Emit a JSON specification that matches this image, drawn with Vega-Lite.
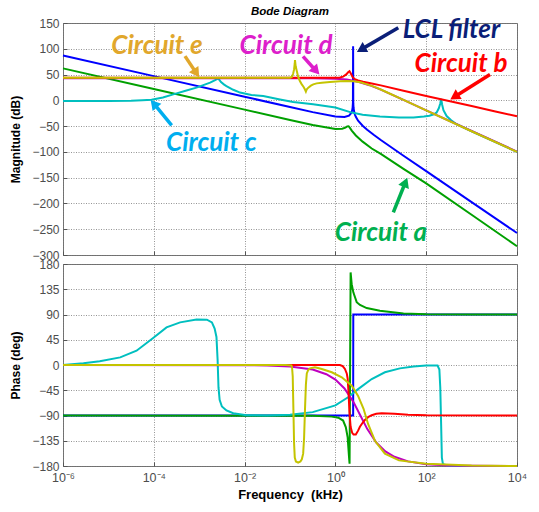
{
  "$schema": "https://vega.github.io/schema/vega-lite/v6.json",
  "background": "white",
  "padding": {"left": 9, "top": 5, "right": 4, "bottom": 2},
  "spacing": 9,
  "bounds": "flush",
  "config": {
    "font": "Liberation Sans",
    "view": {"stroke": "#6f6f6f", "strokeWidth": 1},
    "axis": {
      "labelFont": "Liberation Sans", "labelFontSize": 12, "labelColor": "#4d4d4d", "labelOverlap": false,
      "titleFont": "Liberation Sans", "titleFontSize": 12, "titleFontWeight": "bold", "titleColor": "#000000",
      "grid": true, "gridColor": "#7a7a7a", "gridDash": [1, 1.5], "gridWidth": 0.8,
      "domain": false, "ticks": true, "tickSize": -4, "tickColor": "#555555", "tickWidth": 1,
      "labelPadding": 8, "titlePadding": 9
    }
  },
  "datasets": {
    "magnitude": [
      {"series": "LCL filter", "f": 1e-6, "mag": 87},
      {"series": "LCL filter", "f": 1e-4, "mag": 47},
      {"series": "LCL filter", "f": 0.01, "mag": 7},
      {"series": "LCL filter", "f": 0.1, "mag": -13},
      {"series": "LCL filter", "f": 0.3162, "mag": -22.9},
      {"series": "LCL filter", "f": 1, "mag": -31.4},
      {"series": "LCL filter", "f": 1.585, "mag": -32.3},
      {"series": "LCL filter", "f": 1.995, "mag": -29.6},
      {"series": "LCL filter", "f": 2.239, "mag": -24.5},
      {"series": "LCL filter", "f": 2.344, "mag": -19.3},
      {"series": "LCL filter", "f": 2.399, "mag": -13.6},
      {"series": "LCL filter", "f": 2.432, "mag": -5},
      {"series": "LCL filter", "f": 2.455, "mag": 105},
      {"series": "LCL filter", "f": 2.477, "mag": -6},
      {"series": "LCL filter", "f": 2.512, "mag": -14.4},
      {"series": "LCL filter", "f": 2.57, "mag": -20.8},
      {"series": "LCL filter", "f": 2.692, "mag": -27.7},
      {"series": "LCL filter", "f": 2.818, "mag": -32},
      {"series": "LCL filter", "f": 3.162, "mag": -39.4},
      {"series": "LCL filter", "f": 3.981, "mag": -49.2},
      {"series": "LCL filter", "f": 5.012, "mag": -57},
      {"series": "LCL filter", "f": 7.079, "mag": -67.3},
      {"series": "LCL filter", "f": 10, "mag": -76.9},
      {"series": "LCL filter", "f": 31.62, "mag": -107.4},
      {"series": "LCL filter", "f": 100, "mag": -137.4},
      {"series": "LCL filter", "f": 1000, "mag": -197.4},
      {"series": "LCL filter", "f": 10000, "mag": -257.4},

      {"series": "Circuit a", "f": 1e-6, "mag": 62},
      {"series": "Circuit a", "f": 1e-4, "mag": 22},
      {"series": "Circuit a", "f": 0.01, "mag": -18},
      {"series": "Circuit a", "f": 0.1, "mag": -38},
      {"series": "Circuit a", "f": 0.3162, "mag": -47.8},
      {"series": "Circuit a", "f": 1, "mag": -55.5},
      {"series": "Circuit a", "f": 1.413, "mag": -55.1},
      {"series": "Circuit a", "f": 1.66, "mag": -53},
      {"series": "Circuit a", "f": 1.82, "mag": -50.5},
      {"series": "Circuit a", "f": 1.95, "mag": -50.2},
      {"series": "Circuit a", "f": 2.089, "mag": -53.5},
      {"series": "Circuit a", "f": 2.291, "mag": -58.7},
      {"series": "Circuit a", "f": 2.818, "mag": -68.2},
      {"series": "Circuit a", "f": 3.981, "mag": -80.1},
      {"series": "Circuit a", "f": 6.31, "mag": -93.5},
      {"series": "Circuit a", "f": 10, "mag": -104},
      {"series": "Circuit a", "f": 31.62, "mag": -133},
      {"series": "Circuit a", "f": 100, "mag": -161},
      {"series": "Circuit a", "f": 1000, "mag": -222},
      {"series": "Circuit a", "f": 10000, "mag": -283},

      {"series": "Circuit c", "f": 1e-6, "mag": -1.5},
      {"series": "Circuit c", "f": 1e-5, "mag": -1.5},
      {"series": "Circuit c", "f": 3.162e-5, "mag": -1},
      {"series": "Circuit c", "f": 5.623e-5, "mag": 0},
      {"series": "Circuit c", "f": 8.913e-5, "mag": 1},
      {"series": "Circuit c", "f": 1.585e-4, "mag": 5.5},
      {"series": "Circuit c", "f": 2.692e-4, "mag": 11.6},
      {"series": "Circuit c", "f": 5.012e-4, "mag": 18.5},
      {"series": "Circuit c", "f": 8.71e-4, "mag": 24.6},
      {"series": "Circuit c", "f": 1.738e-3, "mag": 34.2},
      {"series": "Circuit c", "f": 2.239e-3, "mag": 39},
      {"series": "Circuit c", "f": 2.512e-3, "mag": 41.5},
      {"series": "Circuit c", "f": 2.63e-3, "mag": 43},
      {"series": "Circuit c", "f": 2.754e-3, "mag": 40},
      {"series": "Circuit c", "f": 3.02e-3, "mag": 35.5},
      {"series": "Circuit c", "f": 3.548e-3, "mag": 30.5},
      {"series": "Circuit c", "f": 3.981e-3, "mag": 27.7},
      {"series": "Circuit c", "f": 5.623e-3, "mag": 20.5},
      {"series": "Circuit c", "f": 7.943e-3, "mag": 15},
      {"series": "Circuit c", "f": 0.01413, "mag": 10.5},
      {"series": "Circuit c", "f": 0.0257, "mag": 8.3},
      {"series": "Circuit c", "f": 0.06026, "mag": 1.5},
      {"series": "Circuit c", "f": 0.1175, "mag": -3.3},
      {"series": "Circuit c", "f": 0.3236, "mag": -7.7},
      {"series": "Circuit c", "f": 1, "mag": -14},
      {"series": "Circuit c", "f": 2.291, "mag": -23.8},
      {"series": "Circuit c", "f": 3.981, "mag": -28},
      {"series": "Circuit c", "f": 9.55, "mag": -31.5},
      {"series": "Circuit c", "f": 25.12, "mag": -33.5},
      {"series": "Circuit c", "f": 52.48, "mag": -33.5},
      {"series": "Circuit c", "f": 89.13, "mag": -31.5},
      {"series": "Circuit c", "f": 117.5, "mag": -30},
      {"series": "Circuit c", "f": 147.9, "mag": -27},
      {"series": "Circuit c", "f": 169.8, "mag": -23.5},
      {"series": "Circuit c", "f": 190.5, "mag": -15},
      {"series": "Circuit c", "f": 204.2, "mag": -6},
      {"series": "Circuit c", "f": 213.8, "mag": 3},
      {"series": "Circuit c", "f": 223.9, "mag": -8},
      {"series": "Circuit c", "f": 239.9, "mag": -19},
      {"series": "Circuit c", "f": 281.8, "mag": -30.4},
      {"series": "Circuit c", "f": 354.8, "mag": -38.5},
      {"series": "Circuit c", "f": 467.7, "mag": -46.4},
      {"series": "Circuit c", "f": 1000, "mag": -60},
      {"series": "Circuit c", "f": 10000, "mag": -100},

      {"series": "Circuit d", "f": 1e-6, "mag": 43},
      {"series": "Circuit d", "f": 0.1, "mag": 43},
      {"series": "Circuit d", "f": 0.3162, "mag": 42.9},
      {"series": "Circuit d", "f": 1, "mag": 42},
      {"series": "Circuit d", "f": 1.778, "mag": 40.2},
      {"series": "Circuit d", "f": 3.162, "mag": 36.2},
      {"series": "Circuit d", "f": 5.623, "mag": 29.4},
      {"series": "Circuit d", "f": 10, "mag": 20.7},
      {"series": "Circuit d", "f": 31.62, "mag": 1},
      {"series": "Circuit d", "f": 100, "mag": -19.3},
      {"series": "Circuit d", "f": 1000, "mag": -59.5},
      {"series": "Circuit d", "f": 10000, "mag": -99.5},

      {"series": "Circuit b", "f": 1e-6, "mag": 44},
      {"series": "Circuit b", "f": 0.1, "mag": 44},
      {"series": "Circuit b", "f": 1, "mag": 44},
      {"series": "Circuit b", "f": 1.259, "mag": 44.5},
      {"series": "Circuit b", "f": 1.479, "mag": 46},
      {"series": "Circuit b", "f": 1.738, "mag": 50.3},
      {"series": "Circuit b", "f": 1.905, "mag": 54.5},
      {"series": "Circuit b", "f": 2.042, "mag": 56.5},
      {"series": "Circuit b", "f": 2.188, "mag": 52},
      {"series": "Circuit b", "f": 2.399, "mag": 45},
      {"series": "Circuit b", "f": 2.692, "mag": 41},
      {"series": "Circuit b", "f": 3.162, "mag": 38.5},
      {"series": "Circuit b", "f": 4.074, "mag": 36},
      {"series": "Circuit b", "f": 6.31, "mag": 32.5},
      {"series": "Circuit b", "f": 10, "mag": 29},
      {"series": "Circuit b", "f": 31.62, "mag": 18.5},
      {"series": "Circuit b", "f": 100, "mag": 8.5},
      {"series": "Circuit b", "f": 316.2, "mag": -1.2},
      {"series": "Circuit b", "f": 1000, "mag": -11},
      {"series": "Circuit b", "f": 3162, "mag": -21},
      {"series": "Circuit b", "f": 10000, "mag": -31},

      {"series": "Circuit e", "f": 1e-6, "mag": 43.8},
      {"series": "Circuit e", "f": 0.0631, "mag": 43.8},
      {"series": "Circuit e", "f": 0.1, "mag": 44},
      {"series": "Circuit e", "f": 0.1096, "mag": 45.5},
      {"series": "Circuit e", "f": 0.1175, "mag": 52},
      {"series": "Circuit e", "f": 0.123, "mag": 60},
      {"series": "Circuit e", "f": 0.1274, "mag": 72},
      {"series": "Circuit e", "f": 0.1288, "mag": 78},
      {"series": "Circuit e", "f": 0.1334, "mag": 66},
      {"series": "Circuit e", "f": 0.1403, "mag": 58},
      {"series": "Circuit e", "f": 0.1524, "mag": 44.5},
      {"series": "Circuit e", "f": 0.166, "mag": 37},
      {"series": "Circuit e", "f": 0.1803, "mag": 31.5},
      {"series": "Circuit e", "f": 0.1995, "mag": 26},
      {"series": "Circuit e", "f": 0.2138, "mag": 21},
      {"series": "Circuit e", "f": 0.2239, "mag": 17},
      {"series": "Circuit e", "f": 0.2344, "mag": 21.5},
      {"series": "Circuit e", "f": 0.2529, "mag": 24.6},
      {"series": "Circuit e", "f": 0.2884, "mag": 28.5},
      {"series": "Circuit e", "f": 0.3258, "mag": 31},
      {"series": "Circuit e", "f": 0.3855, "mag": 32.9},
      {"series": "Circuit e", "f": 0.5012, "mag": 34.3},
      {"series": "Circuit e", "f": 0.7586, "mag": 35.4},
      {"series": "Circuit e", "f": 1.259, "mag": 36.8},
      {"series": "Circuit e", "f": 1.778, "mag": 37.4},
      {"series": "Circuit e", "f": 2.512, "mag": 37},
      {"series": "Circuit e", "f": 3.548, "mag": 35},
      {"series": "Circuit e", "f": 5.012, "mag": 31},
      {"series": "Circuit e", "f": 7.079, "mag": 26.5},
      {"series": "Circuit e", "f": 10, "mag": 21},
      {"series": "Circuit e", "f": 31.62, "mag": 1},
      {"series": "Circuit e", "f": 100, "mag": -19.6},
      {"series": "Circuit e", "f": 1000, "mag": -60},
      {"series": "Circuit e", "f": 10000, "mag": -100}
    ],
    "phase": [
      {"series": "LCL filter", "f": 1e-6, "phase": -90},
      {"series": "LCL filter", "f": 2.46, "phase": -90},
      {"series": "LCL filter", "f": 2.477, "phase": 90},
      {"series": "LCL filter", "f": 10000, "phase": 90},

      {"series": "Circuit a", "f": 1e-6, "phase": -90},
      {"series": "Circuit a", "f": 0.3162, "phase": -90.5},
      {"series": "Circuit a", "f": 0.8318, "phase": -92},
      {"series": "Circuit a", "f": 1.161, "phase": -94},
      {"series": "Circuit a", "f": 1.479, "phase": -99},
      {"series": "Circuit a", "f": 1.698, "phase": -111},
      {"series": "Circuit a", "f": 1.862, "phase": -129},
      {"series": "Circuit a", "f": 1.995, "phase": -164},
      {"series": "Circuit a", "f": 2.051, "phase": -176},
      {"series": "Circuit a", "f": 2.163, "phase": 165},
      {"series": "Circuit a", "f": 2.286, "phase": 144},
      {"series": "Circuit a", "f": 2.483, "phase": 129.5},
      {"series": "Circuit a", "f": 2.944, "phase": 112},
      {"series": "Circuit a", "f": 3.483, "phase": 107},
      {"series": "Circuit a", "f": 4.887, "phase": 101.5},
      {"series": "Circuit a", "f": 9.55, "phase": 96.5},
      {"series": "Circuit a", "f": 31.62, "phase": 92},
      {"series": "Circuit a", "f": 100, "phase": 90.5},
      {"series": "Circuit a", "f": 1000, "phase": 90},
      {"series": "Circuit a", "f": 10000, "phase": 90},

      {"series": "Circuit c", "f": 1e-6, "phase": 0},
      {"series": "Circuit c", "f": 2.818e-6, "phase": 3},
      {"series": "Circuit c", "f": 6.457e-6, "phase": 6.5},
      {"series": "Circuit c", "f": 1.82e-5, "phase": 13.6},
      {"series": "Circuit c", "f": 4.169e-5, "phase": 25.5},
      {"series": "Circuit c", "f": 1e-4, "phase": 49},
      {"series": "Circuit c", "f": 1.905e-4, "phase": 67},
      {"series": "Circuit c", "f": 3.802e-4, "phase": 76},
      {"series": "Circuit c", "f": 8.71e-4, "phase": 81},
      {"series": "Circuit c", "f": 1.479e-3, "phase": 80.7},
      {"series": "Circuit c", "f": 1.905e-3, "phase": 76},
      {"series": "Circuit c", "f": 2.188e-3, "phase": 65},
      {"series": "Circuit c", "f": 2.399e-3, "phase": 50},
      {"series": "Circuit c", "f": 2.541e-3, "phase": 10},
      {"series": "Circuit c", "f": 2.661e-3, "phase": -40},
      {"series": "Circuit c", "f": 2.818e-3, "phase": -62},
      {"series": "Circuit c", "f": 3.162e-3, "phase": -74},
      {"series": "Circuit c", "f": 3.981e-3, "phase": -81},
      {"series": "Circuit c", "f": 5.623e-3, "phase": -86},
      {"series": "Circuit c", "f": 0.01096, "phase": -89.5},
      {"series": "Circuit c", "f": 0.03162, "phase": -90},
      {"series": "Circuit c", "f": 0.1, "phase": -88.5},
      {"series": "Circuit c", "f": 0.3162, "phase": -84},
      {"series": "Circuit c", "f": 1, "phase": -72},
      {"series": "Circuit c", "f": 1.905, "phase": -57.5},
      {"series": "Circuit c", "f": 3.162, "phase": -43},
      {"series": "Circuit c", "f": 6.31, "phase": -25},
      {"series": "Circuit c", "f": 12.3, "phase": -13},
      {"series": "Circuit c", "f": 26.3, "phase": -6},
      {"series": "Circuit c", "f": 52.48, "phase": -2.5},
      {"series": "Circuit c", "f": 100, "phase": -1},
      {"series": "Circuit c", "f": 177.8, "phase": -1},
      {"series": "Circuit c", "f": 195, "phase": -8},
      {"series": "Circuit c", "f": 204.2, "phase": -40},
      {"series": "Circuit c", "f": 213.8, "phase": -110},
      {"series": "Circuit c", "f": 221.3, "phase": -165},
      {"series": "Circuit c", "f": 234.4, "phase": -177},
      {"series": "Circuit c", "f": 316.2, "phase": -179.5},
      {"series": "Circuit c", "f": 10000, "phase": -180},

      {"series": "Circuit d", "f": 1e-6, "phase": 0},
      {"series": "Circuit d", "f": 0.01, "phase": -0.3},
      {"series": "Circuit d", "f": 0.03162, "phase": -0.8},
      {"series": "Circuit d", "f": 0.1, "phase": -2.6},
      {"series": "Circuit d", "f": 0.3162, "phase": -8.2},
      {"series": "Circuit d", "f": 0.631, "phase": -16.4},
      {"series": "Circuit d", "f": 1, "phase": -26.1},
      {"series": "Circuit d", "f": 1.585, "phase": -41.8},
      {"series": "Circuit d", "f": 2.512, "phase": -66.2},
      {"series": "Circuit d", "f": 3.548, "phase": -90},
      {"series": "Circuit d", "f": 5.012, "phase": -113.8},
      {"series": "Circuit d", "f": 7.943, "phase": -138.2},
      {"series": "Circuit d", "f": 12.59, "phase": -153.9},
      {"series": "Circuit d", "f": 19.95, "phase": -163.6},
      {"series": "Circuit d", "f": 39.81, "phase": -171.8},
      {"series": "Circuit d", "f": 100, "phase": -176.7},
      {"series": "Circuit d", "f": 316.2, "phase": -179},
      {"series": "Circuit d", "f": 1000, "phase": -179.7},
      {"series": "Circuit d", "f": 10000, "phase": -180},

      {"series": "Circuit b", "f": 1e-6, "phase": 0},
      {"series": "Circuit b", "f": 1.259, "phase": 0},
      {"series": "Circuit b", "f": 1.445, "phase": -2},
      {"series": "Circuit b", "f": 1.622, "phase": -7},
      {"series": "Circuit b", "f": 1.778, "phase": -15},
      {"series": "Circuit b", "f": 1.862, "phase": -24},
      {"series": "Circuit b", "f": 1.95, "phase": -50},
      {"series": "Circuit b", "f": 2.042, "phase": -85},
      {"series": "Circuit b", "f": 2.163, "phase": -110},
      {"series": "Circuit b", "f": 2.344, "phase": -121},
      {"series": "Circuit b", "f": 2.512, "phase": -124},
      {"series": "Circuit b", "f": 2.818, "phase": -124},
      {"series": "Circuit b", "f": 3.162, "phase": -117},
      {"series": "Circuit b", "f": 3.467, "phase": -110},
      {"series": "Circuit b", "f": 3.981, "phase": -103},
      {"series": "Circuit b", "f": 4.467, "phase": -98},
      {"series": "Circuit b", "f": 5.248, "phase": -93},
      {"series": "Circuit b", "f": 6.31, "phase": -89.5},
      {"series": "Circuit b", "f": 7.943, "phase": -87},
      {"series": "Circuit b", "f": 10.47, "phase": -86},
      {"series": "Circuit b", "f": 19.95, "phase": -87},
      {"series": "Circuit b", "f": 39.81, "phase": -88.5},
      {"series": "Circuit b", "f": 100, "phase": -89.5},
      {"series": "Circuit b", "f": 10000, "phase": -90},

      {"series": "Circuit e", "f": 1e-6, "phase": 0},
      {"series": "Circuit e", "f": 0.07943, "phase": 0},
      {"series": "Circuit e", "f": 0.1072, "phase": -1},
      {"series": "Circuit e", "f": 0.1109, "phase": -4},
      {"series": "Circuit e", "f": 0.1148, "phase": -20},
      {"series": "Circuit e", "f": 0.1189, "phase": -80},
      {"series": "Circuit e", "f": 0.123, "phase": -140},
      {"series": "Circuit e", "f": 0.1274, "phase": -165},
      {"series": "Circuit e", "f": 0.1349, "phase": -172},
      {"series": "Circuit e", "f": 0.1514, "phase": -174},
      {"series": "Circuit e", "f": 0.1698, "phase": -172},
      {"series": "Circuit e", "f": 0.182, "phase": -168},
      {"series": "Circuit e", "f": 0.195, "phase": -158},
      {"series": "Circuit e", "f": 0.2042, "phase": -130},
      {"series": "Circuit e", "f": 0.2138, "phase": -80},
      {"series": "Circuit e", "f": 0.2239, "phase": -35},
      {"series": "Circuit e", "f": 0.2344, "phase": -15},
      {"series": "Circuit e", "f": 0.2512, "phase": -9},
      {"series": "Circuit e", "f": 0.2754, "phase": -6},
      {"series": "Circuit e", "f": 0.3548, "phase": -4},
      {"series": "Circuit e", "f": 0.5012, "phase": -7},
      {"series": "Circuit e", "f": 0.8318, "phase": -13},
      {"series": "Circuit e", "f": 1.38, "phase": -22},
      {"series": "Circuit e", "f": 2.291, "phase": -37},
      {"series": "Circuit e", "f": 3.162, "phase": -55},
      {"series": "Circuit e", "f": 4.169, "phase": -78},
      {"series": "Circuit e", "f": 5.248, "phase": -105},
      {"series": "Circuit e", "f": 7.413, "phase": -135},
      {"series": "Circuit e", "f": 12.3, "phase": -158},
      {"series": "Circuit e", "f": 25.12, "phase": -170},
      {"series": "Circuit e", "f": 100, "phase": -176},
      {"series": "Circuit e", "f": 1000, "phase": -179},
      {"series": "Circuit e", "f": 10000, "phase": -180}
    ],
    "annotations": [
      {"label": "Circuit e", "f_text": 1.175e-4, "mag_text": 89, "f_from": 4.864e-4, "mag_from": 85.7, "f_to": 8.29e-4, "mag_to": 55.2},
      {"label": "Circuit d", "f_text": 0.0817, "mag_text": 89, "f_from": 0.1932, "mag_from": 85.2, "f_to": 0.3554, "mag_to": 59.4},
      {"label": "LCL filter", "f_text": 360.6, "mag_text": 121.4, "f_from": 24.27, "mag_from": 140.7, "f_to": 3.972, "mag_to": 100.3},
      {"label": "Circuit b", "f_text": 584.8, "mag_text": 54.8, "f_from": 2541, "mag_from": 50.3, "f_to": 450.8, "mag_to": 8.5},
      {"label": "Circuit c", "f_text": 1.849e-3, "mag_text": -98.1, "f_from": 2.477e-4, "mag_from": -48.4, "f_to": 1.057e-4, "mag_to": -8.9},
      {"label": "Circuit a", "f_text": 10.09, "mag_text": -272.3, "f_from": 18.88, "mag_from": -217.3, "f_to": 33.81, "mag_to": -161.8}
    ]
  },
  "vconcat": [
    {
      "width": 454,
      "height": 232,
      "title": {"text": "Bode Diagram", "font": "Liberation Sans", "fontSize": 11.5, "fontWeight": "bold", "fontStyle": "italic", "color": "#000000", "offset": -0.5},
      "layer": [
        {
          "data": {"name": "magnitude"},
          "mark": {"type": "line", "strokeWidth": 2},
          "encoding": {
            "x": {"field": "f", "type": "quantitative", "scale": {"type": "log", "domain": [1e-6, 10000], "nice": false},
                  "axis": {"values": [1e-6, 1e-4, 0.01, 1, 100, 10000], "labels": false, "title": null, "minExtent": 0, "maxExtent": 0, "labelPadding": 0}},
            "y": {"field": "mag", "type": "quantitative", "scale": {"domain": [-300, 150], "nice": false, "zero": false},
                  "axis": {"values": [-300, -250, -200, -150, -100, -50, 0, 50, 100, 150], "labelOverlap": false, "title": "Magnitude (dB)"}},
            "color": {"field": "series", "type": "nominal", "legend": null,
                      "scale": {"domain": ["LCL filter", "Circuit a", "Circuit b", "Circuit c", "Circuit d", "Circuit e"],
                                "range": ["#0000ff", "#00a000", "#ff0000", "#00bfbf", "#bf00bf", "#c4c400"]}}
          }
        },
        {
          "data": {"name": "annotations"},
          "mark": {"type": "rule", "strokeWidth": 3.5},
          "encoding": {
            "x": {"field": "f_from", "type": "quantitative", "scale": {"type": "log", "domain": [1e-6, 10000], "nice": false},
                  "axis": {"values": [1e-6, 1e-4, 0.01, 1, 100, 10000], "labels": false, "title": null, "minExtent": 0, "maxExtent": 0, "labelPadding": 0}},
            "y": {"field": "mag_from", "type": "quantitative", "scale": {"domain": [-300, 150], "nice": false, "zero": false},
                  "axis": {"values": [-300, -250, -200, -150, -100, -50, 0, 50, 100, 150], "labelOverlap": false, "title": "Magnitude (dB)"}},
            "x2": {"field": "f_to"},
            "y2": {"field": "mag_to"},
            "color": {"field": "label", "type": "nominal", "legend": null,
                      "scale": {"domain": ["LCL filter", "Circuit a", "Circuit b", "Circuit c", "Circuit d", "Circuit e"],
                                "range": ["#0b1f78", "#00b050", "#ff0000", "#00aeef", "#dd1fcb", "#e1a72c"]}}
          }
        },
        {
          "data": {"name": "annotations"},
          "transform": [{"filter": "datum.label === 'Circuit e'"}],
          "mark": {"type": "point", "shape": "triangle", "filled": true, "opacity": 1, "size": 130, "angle": 146, "color": "#e1a72c"},
          "encoding": {
            "x": {"field": "f_to", "type": "quantitative", "scale": {"type": "log", "domain": [1e-6, 10000], "nice": false},
                  "axis": {"values": [1e-6, 1e-4, 0.01, 1, 100, 10000], "labels": false, "title": null, "minExtent": 0, "maxExtent": 0, "labelPadding": 0}},
            "y": {"field": "mag_to", "type": "quantitative", "scale": {"domain": [-300, 150], "nice": false, "zero": false},
                  "axis": {"values": [-300, -250, -200, -150, -100, -50, 0, 50, 100, 150], "labelOverlap": false, "title": "Magnitude (dB)"}}
          }
        },
        {
          "data": {"name": "annotations"},
          "transform": [{"filter": "datum.label === 'Circuit d'"}],
          "mark": {"type": "point", "shape": "triangle", "filled": true, "opacity": 1, "size": 130, "angle": 138, "color": "#dd1fcb"},
          "encoding": {
            "x": {"field": "f_to", "type": "quantitative", "scale": {"type": "log", "domain": [1e-6, 10000], "nice": false},
                  "axis": {"values": [1e-6, 1e-4, 0.01, 1, 100, 10000], "labels": false, "title": null, "minExtent": 0, "maxExtent": 0, "labelPadding": 0}},
            "y": {"field": "mag_to", "type": "quantitative", "scale": {"domain": [-300, 150], "nice": false, "zero": false},
                  "axis": {"values": [-300, -250, -200, -150, -100, -50, 0, 50, 100, 150], "labelOverlap": false, "title": "Magnitude (dB)"}}
          }
        },
        {
          "data": {"name": "annotations"},
          "transform": [{"filter": "datum.label === 'LCL filter'"}],
          "mark": {"type": "point", "shape": "triangle", "filled": true, "opacity": 1, "size": 130, "angle": 240, "color": "#0b1f78"},
          "encoding": {
            "x": {"field": "f_to", "type": "quantitative", "scale": {"type": "log", "domain": [1e-6, 10000], "nice": false},
                  "axis": {"values": [1e-6, 1e-4, 0.01, 1, 100, 10000], "labels": false, "title": null, "minExtent": 0, "maxExtent": 0, "labelPadding": 0}},
            "y": {"field": "mag_to", "type": "quantitative", "scale": {"domain": [-300, 150], "nice": false, "zero": false},
                  "axis": {"values": [-300, -250, -200, -150, -100, -50, 0, 50, 100, 150], "labelOverlap": false, "title": "Magnitude (dB)"}}
          }
        },
        {
          "data": {"name": "annotations"},
          "transform": [{"filter": "datum.label === 'Circuit b'"}],
          "mark": {"type": "point", "shape": "triangle", "filled": true, "opacity": 1, "size": 130, "angle": 238, "color": "#ff0000"},
          "encoding": {
            "x": {"field": "f_to", "type": "quantitative", "scale": {"type": "log", "domain": [1e-6, 10000], "nice": false},
                  "axis": {"values": [1e-6, 1e-4, 0.01, 1, 100, 10000], "labels": false, "title": null, "minExtent": 0, "maxExtent": 0, "labelPadding": 0}},
            "y": {"field": "mag_to", "type": "quantitative", "scale": {"domain": [-300, 150], "nice": false, "zero": false},
                  "axis": {"values": [-300, -250, -200, -150, -100, -50, 0, 50, 100, 150], "labelOverlap": false, "title": "Magnitude (dB)"}}
          }
        },
        {
          "data": {"name": "annotations"},
          "transform": [{"filter": "datum.label === 'Circuit c'"}],
          "mark": {"type": "point", "shape": "triangle", "filled": true, "opacity": 1, "size": 130, "angle": 320, "color": "#00aeef"},
          "encoding": {
            "x": {"field": "f_to", "type": "quantitative", "scale": {"type": "log", "domain": [1e-6, 10000], "nice": false},
                  "axis": {"values": [1e-6, 1e-4, 0.01, 1, 100, 10000], "labels": false, "title": null, "minExtent": 0, "maxExtent": 0, "labelPadding": 0}},
            "y": {"field": "mag_to", "type": "quantitative", "scale": {"domain": [-300, 150], "nice": false, "zero": false},
                  "axis": {"values": [-300, -250, -200, -150, -100, -50, 0, 50, 100, 150], "labelOverlap": false, "title": "Magnitude (dB)"}}
          }
        },
        {
          "data": {"name": "annotations"},
          "transform": [{"filter": "datum.label === 'Circuit a'"}],
          "mark": {"type": "point", "shape": "triangle", "filled": true, "opacity": 1, "size": 130, "angle": 22, "color": "#00b050"},
          "encoding": {
            "x": {"field": "f_to", "type": "quantitative", "scale": {"type": "log", "domain": [1e-6, 10000], "nice": false},
                  "axis": {"values": [1e-6, 1e-4, 0.01, 1, 100, 10000], "labels": false, "title": null, "minExtent": 0, "maxExtent": 0, "labelPadding": 0}},
            "y": {"field": "mag_to", "type": "quantitative", "scale": {"domain": [-300, 150], "nice": false, "zero": false},
                  "axis": {"values": [-300, -250, -200, -150, -100, -50, 0, 50, 100, 150], "labelOverlap": false, "title": "Magnitude (dB)"}}
          }
        },
        {
          "data": {"name": "annotations"},
          "mark": {"type": "text", "font": "Lato", "fontSize": 26, "fontStyle": "italic", "fontWeight": "bold", "align": "center", "baseline": "alphabetic"},
          "encoding": {
            "x": {"field": "f_text", "type": "quantitative", "scale": {"type": "log", "domain": [1e-6, 10000], "nice": false},
                  "axis": {"values": [1e-6, 1e-4, 0.01, 1, 100, 10000], "labels": false, "title": null, "minExtent": 0, "maxExtent": 0, "labelPadding": 0}},
            "y": {"field": "mag_text", "type": "quantitative", "scale": {"domain": [-300, 150], "nice": false, "zero": false},
                  "axis": {"values": [-300, -250, -200, -150, -100, -50, 0, 50, 100, 150], "labelOverlap": false, "title": "Magnitude (dB)"}},
            "text": {"field": "label"},
            "color": {"field": "label", "type": "nominal", "legend": null,
                      "scale": {"domain": ["LCL filter", "Circuit a", "Circuit b", "Circuit c", "Circuit d", "Circuit e"],
                                "range": ["#0b1f78", "#00b050", "#ff0000", "#00aeef", "#dd1fcb", "#e1a72c"]}}
          }
        }
      ],
      "resolve": {"scale": {"color": "independent"}}
    },
    {
      "width": 454,
      "height": 202,
      "data": {"name": "phase"},
      "mark": {"type": "line", "strokeWidth": 2},
      "encoding": {
        "x": {"field": "f", "type": "quantitative", "scale": {"type": "log", "domain": [1e-6, 10000], "nice": false},
              "axis": {"values": [1e-6, 1e-4, 0.01, 1, 100, 10000],
                       "labelExpr": "['10⁻⁶','10⁻⁵','10⁻⁴','10⁻³','10⁻²','10⁻¹','10⁰','10¹','10²','10³','10⁴'][round(log(datum.value)/LN10)+6]",
                       "labelFlush": false, "labelPadding": 9, "labelFontSize": 12.5, "title": "Frequency \u00a0(kHz)", "titleFontSize": 13, "titlePadding": 5}},
        "y": {"field": "phase", "type": "quantitative", "scale": {"domain": [-180, 180], "nice": false, "zero": false},
              "axis": {"values": [-180, -135, -90, -45, 0, 45, 90, 135, 180], "labelOverlap": false, "title": "Phase (deg)"}},
        "color": {"field": "series", "type": "nominal", "legend": null,
                  "scale": {"domain": ["LCL filter", "Circuit a", "Circuit b", "Circuit c", "Circuit d", "Circuit e"],
                            "range": ["#0000ff", "#00a000", "#ff0000", "#00bfbf", "#bf00bf", "#c4c400"]}}
      }
    }
  ]
}
